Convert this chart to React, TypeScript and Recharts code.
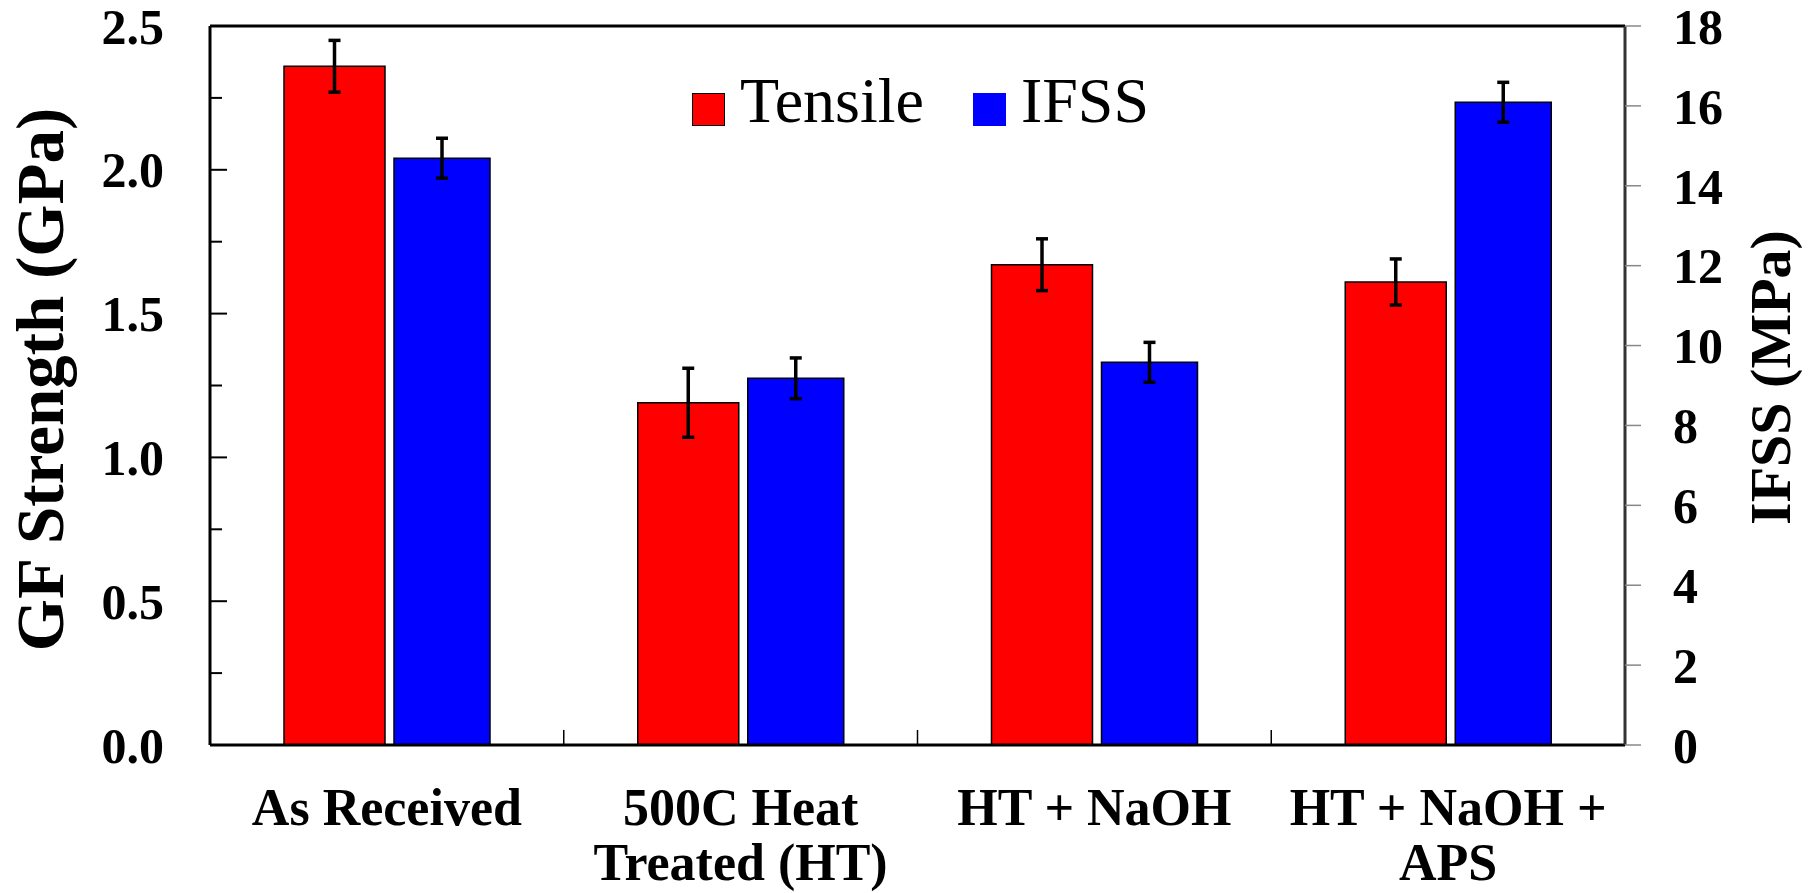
import React from 'react'
import { BarChart, Bar, XAxis, YAxis, ErrorBar, Legend, ReferenceLine } from 'recharts'

const categories = ['As Received', '500C Heat\nTreated (HT)', 'HT + NaOH', 'HT + NaOH +\nAPS']
const seriesNames = ['Tensile', 'IFSS']
const seriesColors = ['#ff0000', '#0000ff']
const tensile = [2.36, 1.19, 1.67, 1.61]
const tensileErr = [0.09, 0.12, 0.09, 0.08]
const ifss = [14.69, 9.18, 9.58, 16.09]
const ifssErr = [0.5, 0.51, 0.5, 0.5]
const leftTicks = [0, 0.25, 0.5, 0.75, 1, 1.25, 1.5, 1.75, 2, 2.25, 2.5]
const rightTicks = [0, 2, 4, 6, 8, 10, 12, 14, 16, 18]

const data = categories.map((name, i) => ({
  name,
  tensile: tensile[i],
  tensileErr: tensileErr[i],
  ifss: ifss[i],
  ifssErr: ifssErr[i],
}))

const W = 1816
const H = 893
const LEFT_W = 210
const RIGHT_W = 191
const BAND = (W - LEFT_W - RIGHT_W) / categories.length
const FONT = '"Liberation Serif", "Times New Roman", serif'

const LeftTick = ({ x, y, payload }: any) => {
  const v = payload.value as number
  const major = Math.abs(v * 2 - Math.round(v * 2)) < 1e-6
  return (
    <g>
      <line x1={x} x2={x + (major ? 17 : 12)} y1={y} y2={y} stroke="#000" strokeWidth={2} />
      {major && (
        <text x={x - 46} y={y} dy="0.35em" textAnchor="end" fontFamily={FONT} fontWeight="bold" fontSize={50} fill="#000">
          {v.toFixed(1)}
        </text>
      )}
    </g>
  )
}

const XTick = ({ x, y, payload, index }: any) => {
  const lines = String(payload.value).split('\n')
  return (
    <g>
      {index < categories.length - 1 && (
        <line x1={x + BAND / 2} x2={x + BAND / 2} y1={y} y2={y - 15} stroke="#000" strokeWidth={1.5} />
      )}
      <text x={x} y={y} textAnchor="middle" fontFamily={FONT} fontWeight="bold" fontSize={52} fill="#000">
        {lines.map((l, i) => (
          <tspan key={i} x={x} dy={i === 0 ? 80 : 55}>{l}</tspan>
        ))}
      </text>
    </g>
  )
}

// drawn in the order of seriesNames (Tensile first, like the original)
const LegendContent = () => (
  <div style={{ display: 'flex', alignItems: 'flex-end', fontFamily: FONT, fontSize: 64, lineHeight: 1, color: '#000' }}>
    {seriesNames.map((name, i) => (
      <div key={name} style={{ display: 'flex', alignItems: 'flex-end', marginRight: i === 0 ? 49 : 0 }}>
        <div style={{
          width: 33, height: 33, marginBottom: 7, marginRight: 15, background: seriesColors[i],
          boxSizing: 'border-box', border: i === 0 ? '1.5px solid #000' : 'none',
        }} />
        <span>{name}</span>
      </div>
    ))}
  </div>
)

const LeftTitle = ({ viewBox }: any) => (
  <text
    transform={`translate(${viewBox.x + 63}, ${viewBox.y + viewBox.height / 2 - 6}) rotate(-90)`}
    textAnchor="middle" fontFamily={FONT} fontWeight="bold" fontSize={67} fill="#000"
  >
    GF Strength (GPa)
  </text>
)

const RightTitle = ({ viewBox }: any) => (
  <text
    transform={`translate(${viewBox.x + 165}, ${viewBox.y + viewBox.height / 2 - 8}) rotate(-90)`}
    textAnchor="middle" fontFamily={FONT} fontWeight="bold" fontSize={58} fill="#000"
  >
    IFSS (MPa)
  </text>
)

export default function App() {
  return (
    <div style={{ position: 'absolute', left: 0, top: 0, width: W, height: H, background: '#fff' }}>
      <BarChart width={W} height={H} data={data} margin={{ top: 26, right: 0, left: 0, bottom: 0 }} barGap={9}>
        <XAxis
          dataKey="name"
          height={148}
          interval={0}
          axisLine={{ stroke: '#000', strokeWidth: 3 }}
          tickLine={false}
          tickSize={0}
          tickMargin={0}
          tick={<XTick />}
        />
        <YAxis
          yAxisId="l"
          width={LEFT_W}
          domain={[0, 2.5]}
          ticks={leftTicks}
          interval={0}
          axisLine={{ stroke: '#000', strokeWidth: 3 }}
          tickLine={false}
          tickSize={0}
          tickMargin={0}
          tick={<LeftTick />}
          label={<LeftTitle />}
        />
        <YAxis
          yAxisId="r"
          orientation="right"
          width={RIGHT_W}
          domain={[0, 18]}
          ticks={rightTicks}
          interval={0}
          axisLine={{ stroke: '#333', strokeWidth: 3 }}
          tickLine={{ stroke: '#888', strokeWidth: 1.5 }}
          tickSize={16}
          tickMargin={32}
          tick={{ fontFamily: FONT, fontWeight: 'bold', fontSize: 50, fill: '#000' }}
          label={<RightTitle />}
        />
        <ReferenceLine yAxisId="l" y={2.5} stroke="#000" strokeWidth={3} />
        <Legend
          layout="horizontal"
          verticalAlign="middle"
          align="center"
          content={<LegendContent />}
          wrapperStyle={{ left: 692, top: 69, width: 'auto', height: 'auto' }}
        />
        <Bar yAxisId="l" dataKey="tensile" name={seriesNames[0]} fill={seriesColors[0]} stroke="#000" strokeWidth={1.5} barSize={101} isAnimationActive={false}>
          <ErrorBar dataKey="tensileErr" width={6} strokeWidth={3.5} stroke="#000" direction="y" />
        </Bar>
        <Bar yAxisId="r" dataKey="ifss" name={seriesNames[1]} fill={seriesColors[1]} stroke="#000" strokeWidth={1.5} barSize={96} isAnimationActive={false}>
          <ErrorBar dataKey="ifssErr" width={6} strokeWidth={3.5} stroke="#000" direction="y" />
        </Bar>
      </BarChart>
    </div>
  )
}
